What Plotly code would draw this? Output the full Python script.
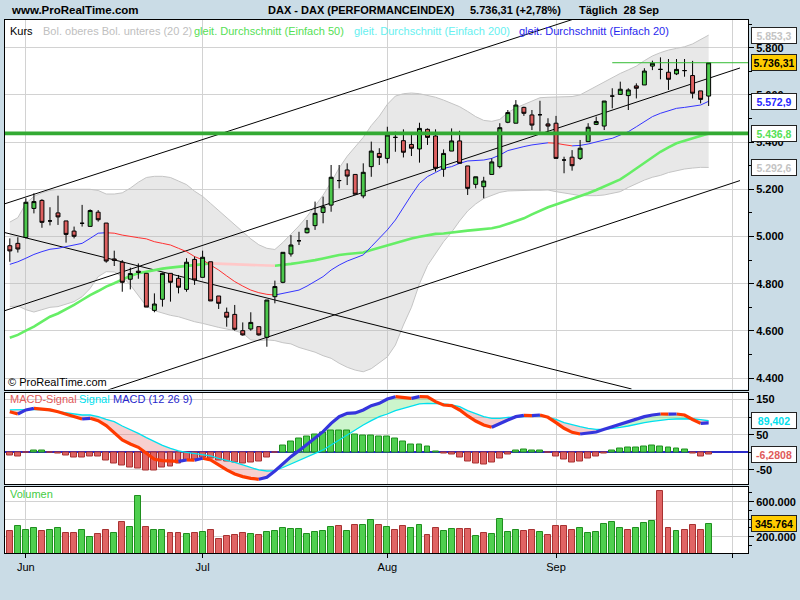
import numpy as np
import pandas as pd
import plotly.graph_objects as go

# ---------------- data ----------------
sessions = pd.bdate_range("2009-05-28", "2009-09-28")      # 88 trading days
axis_sessions = pd.bdate_range("2009-05-28", "2009-10-02")  # axis runs a few days further

open_ = [4961, 4971, 4996, 5119, 5153, 5066, 5100, 5066, 5023, 5056,
         5043, 5103, 5057, 4905, 4891, 4819, 4853, 4844, 4687, 4734,
         4844, 4823, 4776, 4903, 4827, 4893, 4748, 4679, 4670, 4601,
         4608, 4618, 4573, 4745, 4806, 4926, 4982, 5016, 5046, 5102,
         5133, 5237, 5282, 5263, 5172, 5296, 5352, 5331, 5420, 5406,
         5390, 5371, 5454, 5426, 5285, 5362, 5405, 5299, 5221, 5211,
         5263, 5296, 5484, 5480, 5547, 5515, 5516, 5477, 5480, 5324,
         5336, 5331, 5402, 5475, 5468, 5595, 5602, 5597, 5638, 5642,
         5722, 5708, 5696, 5689, 5703, 5682, 5617, 5595]
high = [4992, 4997, 5162, 5183, 5158, 5124, 5173, 5066, 5042, 5134,
        5115, 5112, 5057, 4940, 4900, 4868, 4886, 4844, 4759, 4847,
        4844, 4837, 4908, 4915, 4940, 4893, 4748, 4699, 4710, 4636,
        4679, 4618, 4731, 4813, 4933, 5006, 5020, 5070, 5148, 5169,
        5303, 5303, 5310, 5263, 5310, 5402, 5374, 5465, 5444, 5454,
        5430, 5482, 5458, 5454, 5369, 5458, 5448, 5299, 5253, 5253,
        5331, 5480, 5536, 5578, 5550, 5536, 5575, 5501, 5511, 5338,
        5366, 5409, 5480, 5508, 5574, 5628, 5656, 5628, 5649, 5713,
        5745, 5759, 5752, 5752, 5752, 5744, 5617, 5736.31]
low = [4893, 4932, 4992, 5098, 5037, 5047, 5049, 4974, 4992, 5042,
       5042, 5063, 4889, 4875, 4766, 4776, 4821, 4701, 4679, 4703,
       4724, 4759, 4766, 4795, 4827, 4727, 4693, 4618, 4601, 4580,
       4601, 4580, 4533, 4717, 4802, 4915, 4964, 5013, 5028, 5056,
       5105, 5204, 5218, 5179, 5162, 5253, 5303, 5310, 5359, 5335,
       5341, 5313, 5388, 5275, 5253, 5362, 5310, 5176, 5204, 5162,
       5263, 5289, 5480, 5480, 5511, 5451, 5444, 5437, 5331, 5268,
       5279, 5324, 5402, 5472, 5451, 5543, 5600, 5536, 5585, 5642,
       5705, 5666, 5621, 5684, 5677, 5585, 5564, 5553]
close = [4939, 4947, 5145, 5148, 5060, 5066, 5083, 5009, 5001, 5056,
         5110, 5071, 4896, 4899, 4806, 4843, 4848, 4701, 4714, 4844,
         4806, 4785, 4891, 4816, 4912, 4727, 4717, 4658, 4607, 4583,
         4636, 4583, 4731, 4788, 4933, 4964, 4982, 5035, 5098, 5126,
         5251, 5237, 5256, 5179, 5272, 5362, 5335, 5430, 5420, 5357,
         5374, 5458, 5420, 5289, 5352, 5405, 5310, 5204, 5253, 5235,
         5316, 5461, 5525, 5557, 5522, 5472, 5516, 5468, 5331, 5324,
         5300, 5374, 5463, 5487, 5574, 5595, 5624, 5621, 5628, 5701,
         5734, 5708, 5666, 5708, 5703, 5607, 5581, 5736.31]
volume = [261000, 318000, 272000, 295000, 261000, 272000, 295000, 238000, 238000, 272000,
          192000, 227000, 272000, 238000, 364000, 307000, 661000, 307000, 272000, 272000,
          238000, 238000, 227000, 238000, 249000, 272000, 169000, 204000, 215000, 238000,
          227000, 215000, 249000, 261000, 295000, 284000, 284000, 227000, 249000, 261000,
          307000, 318000, 261000, 329000, 329000, 387000, 329000, 307000, 276000, 318000,
          295000, 329000, 215000, 295000, 261000, 284000, 284000, 284000, 204000, 238000,
          227000, 398000, 249000, 272000, 261000, 272000, 249000, 215000, 318000, 318000,
          272000, 295000, 238000, 249000, 341000, 364000, 295000, 272000, 295000, 352000,
          375000, 718000, 295000, 261000, 272000, 329000, 272000, 345764]
ma20 = [4882, 4893, 4908, 4924, 4936, 4946, 4950, 4957, 4961, 4971,
        4992, 5014, 5016, 5014, 5006, 4999, 4995, 4990, 4978, 4971,
        4964, 4950, 4936, 4915, 4901, 4879, 4858, 4833, 4809, 4790,
        4773, 4762, 4755, 4752, 4759, 4766, 4773, 4790, 4809, 4830,
        4858, 4879, 4896, 4908, 4922, 4957, 4992, 5028, 5070, 5126,
        5176, 5225, 5254, 5271, 5289, 5296, 5310, 5320, 5321, 5324,
        5331, 5345, 5364, 5374, 5381, 5388, 5394, 5397, 5395, 5389,
        5384, 5386, 5392, 5402, 5409, 5416, 5430, 5444, 5465, 5487,
        5508, 5522, 5533, 5543, 5547, 5553, 5557, 5572.9]
ma50 = [4571, 4583, 4601, 4618, 4639, 4660, 4674, 4691, 4710, 4731,
        4752, 4769, 4788, 4802, 4819, 4833, 4844, 4851, 4858, 4864,
        4868, 4872, 4877, 4881, 4885, 4886, 4885, 4884, 4882, 4881,
        4879, 4878, 4877, 4876, 4879, 4884, 4889, 4893, 4900, 4907,
        4915, 4922, 4926, 4929, 4932, 4943, 4953, 4963, 4971, 4981,
        4992, 4999, 5006, 5011, 5013, 5018, 5020, 5025, 5028, 5030,
        5035, 5042, 5053, 5063, 5077, 5094, 5110, 5124, 5136, 5148,
        5158, 5169, 5183, 5197, 5211, 5225, 5242, 5265, 5289, 5313,
        5338, 5359, 5378, 5395, 5406, 5416, 5426, 5436.8]
bb_upper = [5061, 5080, 5140, 5170, 5185, 5195, 5200, 5200, 5198, 5197,
            5200, 5195, 5180, 5180, 5185, 5205, 5230, 5250, 5255, 5255,
            5250, 5235, 5220, 5192, 5170, 5140, 5110, 5080, 5050, 5020,
            4990, 4965, 4950, 4945, 4975, 5010, 5045, 5085, 5130, 5175,
            5230, 5290, 5340, 5380, 5420, 5470, 5510, 5560, 5595, 5605,
            5608, 5605, 5598, 5590, 5578, 5565, 5550, 5530, 5508, 5492,
            5488, 5496, 5525, 5545, 5560, 5575, 5588, 5590, 5590, 5590,
            5593, 5600, 5618, 5638, 5656, 5674, 5691, 5706, 5722, 5745,
            5765, 5779, 5790, 5797, 5804, 5816, 5833, 5853.3]
bb_lower = [4703, 4706, 4690, 4680, 4690, 4700, 4703, 4712, 4724, 4745,
            4780, 4830, 4851, 4850, 4830, 4795, 4750, 4705, 4686, 4675,
            4666, 4660, 4649, 4639, 4632, 4622, 4615, 4608, 4601, 4590,
            4562, 4559, 4562, 4559, 4550, 4545, 4530, 4520, 4510, 4495,
            4484, 4463, 4446, 4434, 4427, 4440, 4465, 4490, 4540, 4625,
            4700, 4800, 4877, 4927, 4978, 5018, 5066, 5108, 5138, 5161,
            5175, 5187, 5193, 5195, 5196, 5196, 5196, 5197, 5190, 5183,
            5179, 5173, 5172, 5173, 5176, 5183, 5190, 5208, 5225, 5239,
            5251, 5259, 5271, 5279, 5286, 5290, 5293, 5292.6]
macd = [115, 108.5, 120, 124.6, 122.7, 120, 115, 108.5, 101, 94.4,
        96.3, 89.7, 75.5, 56.6, 34.9, 23.6, 14.1, -2.8, -19.9, -23.6,
        -24.6, -25.5, -21.7, -22.5, -17, -21.7, -35.9, -50, -61.4, -68.9,
        -73.7, -76.5, -70.8, -52.9, -31.2, -12.3, 4.7, 22.6, 39.6, 58.5,
        82.1, 101, 110.4, 111.5, 119.9, 132.1, 138.7, 151, 157.6, 155.7,
        152.9, 157.6, 157, 143.5, 134, 132.1, 119.9, 102.9, 88.7, 77.4,
        70.8, 82.1, 91.5, 101, 104.8, 104, 105.7, 99.1, 84, 68,
        56.6, 51.9, 53.8, 57.6, 65.1, 72.7, 80.2, 86.8, 93.4, 101,
        105.7, 108.5, 108, 108.5, 105.7, 93, 82, 83.1]
signal = [119.9, 120, 120, 121.7, 121.7, 118, 115, 112.3, 108.5, 105.7,
          105.7, 101, 93.4, 86.8, 74.5, 65.1, 53.8, 41.5, 30.2, 19.8,
          11.3, 3.8, 0, -2.8, -5.7, -10.4, -17, -21.7, -28.3, -35.9,
          -43.4, -50, -53, -52, -43, -33, -23.6, -12.3, -2.8, 6.6,
          20.7, 34.9, 51, 63.2, 77.4, 89.7, 101, 108.5, 118, 124.6,
          131.2, 136.9, 138.7, 138.7, 136.9, 134, 129.3, 118, 110.4, 101,
          96.3, 96.3, 99.1, 99.1, 101, 102.9, 102.9, 99.1, 93.4, 84,
          77.4, 72.7, 68, 65.1, 65.1, 67, 70.8, 74.5, 80.2, 84,
          87.8, 91.5, 93.4, 94.4, 94.4, 95, 92.5, 89.402]
macd_hist = [-9.4, -12.3, 0, 5.7, 3.8, 0, -2.8, -9.4, -14, -14,
             -12.3, -12.3, -22.7, -31, -38.7, -42.5, -45, -52, -52, -43,
             -40, -31, -23, -20, -15, -18, -23, -26, -28, -31,
             -28, -26.4, -15, 0, 17.9, 31.2, 39.6, 45.3, 51, 56.6,
             62.3, 62.3, 62.3, 51, 48.1, 48.1, 45.3, 45.3, 39.6, 31.2,
             22.7, 22.7, 17, 2.8, -2.8, -5.7, -15, -25.5, -31.2, -34,
             -28.3, -17, -5.7, 5.7, 8.5, 5.7, 5.7, 0, -11.3, -19.8,
             -28.3, -25.5, -17, -11.3, -2.8, 5.7, 11.3, 14.2, 14.2, 17,
             19.8, 17, 14.2, 11.3, 8.5, -2.8, -11.3, -6.2808]

# hand-drawn lines: (session index, price) endpoints
trend_lines = [
    ((-1.14, 5133.0), (70.0, 5919.0)),   # upper channel
    ((-1.14, 4680.0), (90.9, 5714.0)),   # middle channel
    ((12.24, 4350.0), (90.9, 5237.0)),   # lower channel
    ((-1.14, 5021.0), (77.4, 4354.0)),   # falling line
]
support_level = 5437.0
resistance_level = 5736.31
resistance_from = 75

# axis tick labels
price_ticks = [4400, 4600, 4800, 5000, 5200, 5400, 5600, 5800]
macd_ticks = [-50, 0, 50, 100, 150]
macd_ticktext = ["-50", "", "50", "", "150"]     # 0 and 100 sit under the value boxes
vol_ticks = [200000, 400000, 600000]

# ---------------- helpers ----------------
W, H = 800, 600
L, R, T, B = 4, 51, 20, 47
FONT = "Liberation Sans, Arial, sans-serif"
GRID = "#d2d2d2"
BG = "#cadce6"
GREEN_F, GREEN_L = "#4fcf4f", "#1f8f1f"
RED_F, RED_L = "#e06464", "#a83232"


def px_x(px):
    return (px - L) / (W - L - R)


def px_y(py):
    return (H - B - py) / (H - T - B)


def de(v, dec):
    s = f"{v:,.{dec}f}"
    return s.replace(",", "X").replace(".", ",").replace("X", ".")


def split_runs(vals):
    vals = list(vals)
    n = len(vals)
    rising = [vals[k + 1] > vals[k] for k in range(n - 1)]
    ux, uy, dx, dy = [], [], [], []
    i = 0
    while i < n - 1:
        j = i
        while j + 1 < n - 1 and rising[j + 1] == rising[i]:
            j += 1
        xs = list(range(i, j + 2))
        ys = vals[i:j + 2]
        if rising[i]:
            ux += xs + [None]; uy += ys + [None]
        else:
            dx += xs + [None]; dy += ys + [None]
        i = j + 1
    return (ux, uy), (dx, dy)


x = np.arange(len(close))
month_pos, month_txt = [], []
prev = None
for i, d in enumerate(axis_sessions):
    if prev is not None and d.month != prev:
        month_pos.append(i)
        month_txt.append(d.strftime("%b") if i < len(sessions) else "")
    prev = d.month

X_RANGE = [-0.6, 91.9]
P_RANGE = [4351.8, 5917.3]
M_RANGE = [-89.8, 169.4]
V_RANGE = [13700, 768000]

fig = go.Figure()

# --- price panel (base layer) ---
fig.add_trace(go.Scatter(x=x, y=bb_lower, mode="lines", line=dict(color="#c4c4c4", width=1),
                         xaxis="x", yaxis="y"))
fig.add_trace(go.Scatter(x=x, y=bb_upper, mode="lines", line=dict(color="#c4c4c4", width=1),
                         fill="tonexty", fillcolor="rgba(185,185,185,0.33)", xaxis="x", yaxis="y"))
for (x0, p0), (x1, p1) in trend_lines:
    fig.add_trace(go.Scatter(x=[x0, x1], y=[p0, p1], mode="lines",
                             line=dict(color="black", width=1), xaxis="x", yaxis="y"))
(ux, uy), (dx, dy) = split_runs(ma50)
fig.add_trace(go.Scatter(x=ux, y=uy, mode="lines", line=dict(color="#66ee66", width=2.6),
                         xaxis="x", yaxis="y"))
fig.add_trace(go.Scatter(x=dx, y=dy, mode="lines", line=dict(color="#ffc8c8", width=2.6),
                         xaxis="x", yaxis="y"))
(ux, uy), (dx, dy) = split_runs(ma20)
fig.add_trace(go.Scatter(x=ux, y=uy, mode="lines", line=dict(color="#3434ff", width=1),
                         xaxis="x", yaxis="y"))
fig.add_trace(go.Scatter(x=dx, y=dy, mode="lines", line=dict(color="#ff3030", width=1),
                         xaxis="x", yaxis="y"))

# --- candles on an overlay axis so they sit above the bands ---
fig.add_trace(go.Candlestick(
    x=x, open=open_, high=high, low=low, close=close,
    increasing=dict(line=dict(color="black", width=1), fillcolor="#4cc84c"),
    decreasing=dict(line=dict(color="black", width=1), fillcolor="#dd6060"),
    whiskerwidth=0, xaxis="x", yaxis="y4"))

# --- MACD panel ---
mac = np.array(macd, dtype=float)
sig = np.array(signal, dtype=float)
fig.add_trace(go.Scatter(x=x, y=sig, mode="lines", line=dict(width=0), xaxis="x2", yaxis="y2"))
fig.add_trace(go.Scatter(x=x, y=np.maximum(mac, sig), mode="lines", line=dict(width=0),
                         fill="tonexty", fillcolor="rgba(110,225,110,0.35)", xaxis="x2", yaxis="y2"))
fig.add_trace(go.Scatter(x=x, y=sig, mode="lines", line=dict(width=0), xaxis="x2", yaxis="y2"))
fig.add_trace(go.Scatter(x=x, y=np.minimum(mac, sig), mode="lines", line=dict(width=0),
                         fill="tonexty", fillcolor="rgba(230,110,110,0.33)", xaxis="x2", yaxis="y2"))

hist_fill = [GREEN_F if v > 0 else RED_F for v in macd_hist]
hist_line = [GREEN_L if v > 0 else RED_L for v in macd_hist]
fig.add_trace(go.Bar(x=x, y=macd_hist, width=0.74,
                     marker=dict(color=hist_fill, line=dict(color=hist_line, width=1)),
                     xaxis="x2", yaxis="y5"))

fig.add_trace(go.Scatter(x=x, y=sig, mode="lines", line=dict(color="#00e0ee", width=1.3),
                         xaxis="x2", yaxis="y6"))
(ux, uy), (dx, dy) = split_runs(macd)
fig.add_trace(go.Scatter(x=dx, y=dy, mode="lines", line=dict(color="#ff3a00", width=3.2),
                         xaxis="x2", yaxis="y6"))
fig.add_trace(go.Scatter(x=ux, y=uy, mode="lines", line=dict(color="#3535dd", width=3.2),
                         xaxis="x2", yaxis="y6"))

# --- volume panel ---
vol_up = [close[0] >= open_[0]] + [close[k] >= close[k - 1] for k in range(1, len(close))]
fig.add_trace(go.Bar(x=x, y=volume, width=0.74,
                     marker=dict(color=[GREEN_F if u else RED_F for u in vol_up],
                                 line=dict(color=[GREEN_L if u else RED_L for u in vol_up], width=1)),
                     xaxis="x3", yaxis="y3"))

# ---------------- layout ----------------
dom_price = [px_y(389.5), 1.0]
dom_macd = [px_y(484), px_y(392.5)]
dom_vol = [0.0, px_y(487)]

TICKFONT = dict(family=FONT, size=11, color="black", weight="bold")
common_x = dict(range=X_RANGE, tickmode="array", tickvals=month_pos, ticktext=month_txt,
                showgrid=True, gridcolor=GRID, gridwidth=1, showline=True, linecolor="black",
                linewidth=1, mirror=True, zeroline=False, fixedrange=True)
common_y = dict(side="right", showgrid=True, gridcolor=GRID, gridwidth=1, showline=True,
                linecolor="black", linewidth=1, mirror=True, ticks="outside", ticklen=5,
                tickcolor="black", tickfont=TICKFONT, fixedrange=True)

fig.update_layout(
    width=W, height=H, margin=dict(l=L, r=R, t=T, b=B, pad=0),
    paper_bgcolor=BG, plot_bgcolor="white", showlegend=False, hovermode=False,
    separators=",.", bargap=0, boxgap=0.3,
    xaxis=dict(common_x, anchor="y", showticklabels=False, ticks="",
               rangeslider=dict(visible=False)),
    xaxis2=dict(common_x, anchor="y2", showticklabels=False, ticks="", matches="x"),
    xaxis3=dict(common_x, anchor="y3", showticklabels=True, ticks="outside", ticklen=4,
                tickcolor="black", tickfont=dict(family=FONT, size=11, color="black"),
                matches="x"),
    yaxis=dict(common_y, domain=dom_price, anchor="x", range=P_RANGE, tickmode="array",
               tickvals=price_ticks, tickformat=",d", zeroline=False,
               minor=dict(tickmode="linear", tick0=4400, dtick=100, ticks="outside", ticklen=3,
                          tickcolor="black", showgrid=False)),
    yaxis4=dict(overlaying="y", anchor="x", range=P_RANGE, visible=False, fixedrange=True),
    yaxis2=dict(common_y, domain=dom_macd, anchor="x2", range=M_RANGE, tickmode="array",
                tickvals=macd_ticks, ticktext=macd_ticktext,
                zeroline=True, zerolinecolor="#2a2ac8", zerolinewidth=1.5),
    yaxis5=dict(overlaying="y2", anchor="x2", range=M_RANGE, visible=False, fixedrange=True),
    yaxis6=dict(overlaying="y2", anchor="x2", range=M_RANGE, visible=False, fixedrange=True),
    yaxis3=dict(common_y, domain=dom_vol, anchor="x3", range=V_RANGE, tickmode="array",
                tickvals=vol_ticks, tickformat=",d", zeroline=False,
                minor=dict(tickmode="linear", tick0=0, dtick=100000, ticks="outside", ticklen=3,
                           tickcolor="black", showgrid=False)),
)

# drawn horizontal levels above the candles
fig.add_shape(type="line", xref="x domain", x0=0, x1=1, yref="y", y0=support_level,
              y1=support_level, line=dict(color="#33aa33", width=3.6), layer="above")
fig.add_shape(type="line", xref="x", x0=resistance_from, x1=X_RANGE[1], yref="y",
              y0=resistance_level, y1=resistance_level, line=dict(color="#33bb33", width=1),
              layer="above")

ann = []


def text(t, px, py, color, size=11, bold=False, anchor="left"):
    ann.append(dict(text=t, xref="paper", yref="paper", x=px_x(px), y=px_y(py),
                    xanchor=anchor, yanchor="middle", showarrow=False,
                    font=dict(family=FONT, size=size, color=color,
                              weight="bold" if bold else "normal")))


def box(t, yval, yref, color, bg):
    ann.append(dict(text=t, xref="paper", x=1, xshift=3, xanchor="left", yref=yref, y=yval,
                    yanchor="middle", showarrow=False, width=41, align="center",
                    font=dict(family=FONT, size=10.5, color=color, weight="bold"),
                    bgcolor=bg, bordercolor="#222222", borderwidth=1, borderpad=1.5))


# header
text("www.ProRealTime.com", 8, 10, "black", size=11.5, bold=True)
text("DAX - DAX (PERFORMANCEINDEX)", 266, 10, "black", size=11, bold=True)
text(f"{de(close[-1], 2)} (+2,78%)", 468, 10, "black", size=11, bold=True)
text("Täglich\u00a0\u00a028 Sep", 578, 10, "black", size=11, bold=True)

# panel legends
text("Kurs", 7, 31, "black")
text("Bol. oberes Bol. unteres (20 2)", 40, 31, "#c0c0c0")
text("gleit. Durchschnitt (Einfach 50)", 192, 31, "#55e055")
text("gleit. Durchschnitt (Einfach 200)", 352, 31, "#66f0f0")
text("gleit. Durchschnitt (Einfach 20)", 517, 31, "#2828ee")
text("© ProRealTime.com", 5, 382, "black")
text("MACD-Signal", 7, 399, "#e05a5a")
text("Signal", 76, 399, "#00e0ee")
text("MACD (12 26 9)", 110, 399, "#2828cc")
text("Volumen", 7, 494, "#44cc44")

# value boxes on the right axis
box(de(bb_upper[-1], 1), bb_upper[-1], "y", "#c4c4c4", "white")
box(de(close[-1], 2), close[-1], "y", "black", "#ffcc00")
box(de(ma20[-1], 1), ma20[-1], "y", "#2828ff", "white")
box(de(ma50[-1], 1), ma50[-1], "y", "#55e055", "white")
box(de(bb_lower[-1], 1), bb_lower[-1], "y", "#c4c4c4", "white")
box(de(signal[-1], 3), signal[-1], "y2", "#00e0ee", "white")
box(de(macd_hist[-1], 4), macd_hist[-1], "y2", "#e05a5a", "white")
box(de(volume[-1], 0), volume[-1], "y3", "black", "#ffcc00")

fig.update_layout(annotations=ann)
fig.write_html("out.html", config={"displayModeBar": False},
               post_script="document.body.style.margin='0';document.body.style.overflow='hidden';")
